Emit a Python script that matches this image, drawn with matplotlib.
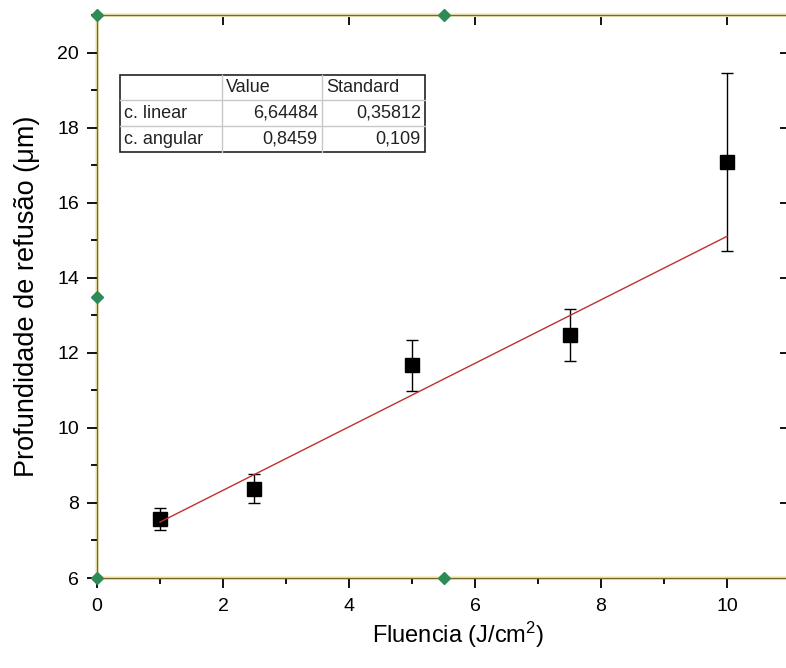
import numpy as np
import matplotlib.pyplot as plt
from matplotlib.patches import Rectangle
from matplotlib.ticker import MultipleLocator

plt.rcParams['font.family'] = ['Liberation Sans', 'DejaVu Sans']
plt.rcParams['mathtext.fontset'] = 'custom'
plt.rcParams['mathtext.rm'] = 'Liberation Sans'
plt.rcParams['mathtext.it'] = 'Liberation Sans'

fluencia = [1.0, 2.5, 5.0, 7.5, 10.0]
profundidade = [7.58, 8.38, 11.67, 12.48, 17.08]
erro = [0.29, 0.39, 0.68, 0.69, 2.38]

# linear fit parameters
c_linear = 6.64484
c_angular = 0.8459
table_rows = [["", "Value", "Standard"],
              ["c. linear", "6,64484", "0,35812"],
              ["c. angular", "0,8459", "0,109"]]

fig = plt.figure(figsize=(7.86, 6.68), dpi=100)
ax = fig.add_axes([0.1234, 0.1347, 0.8817, 0.8428])

# error bars + squares
ax.errorbar(fluencia, profundidade, yerr=erro, fmt="s", color="black",
            markersize=9.5, ecolor="black", elinewidth=1, capsize=4,
            capthick=1, zorder=3)

# fit line
xf = np.array([fluencia[0], fluencia[-1]])
ax.plot(xf, c_linear + c_angular * xf, color="#bf3030", lw=1, zorder=4)

ax.set_xlim(0, 11)
ax.set_ylim(6, 21)
ax.xaxis.set_major_locator(MultipleLocator(2))
ax.xaxis.set_minor_locator(MultipleLocator(1))
ax.yaxis.set_major_locator(MultipleLocator(2))
ax.yaxis.set_minor_locator(MultipleLocator(1))
ax.tick_params(which="both", direction="out", width=1.3, labelsize=14,
               top=False, right=False)
ax.tick_params(which="major", length=7.5)
ax.tick_params(which="minor", length=4)
ax.tick_params(axis="x", which="major", pad=7)
ax.tick_params(axis="y", which="major", pad=5.5)

# top / right ticks pointing inward
for sec in (ax.secondary_xaxis("top"), ax.secondary_yaxis("right")):
    sec.tick_params(which="both", direction="in", width=1.3, labelsize=0,
                    labeltop=False, labelright=False)
    sec.tick_params(which="major", length=7.5)
    sec.tick_params(which="minor", length=4)
    sec.spines[:].set_visible(False)

ax.set_xlabel("Fluencia (J/cm$^{2}$)", fontsize=17)
ax.xaxis.set_label_coords(0.521, -0.075)
ax.set_ylabel("Profundidade de refusão (μm)", fontsize=19.5, labelpad=12)

# frame: dark olive line with a pale yellow halo
for s in ax.spines.values():
    s.set_color("#76682c")
    s.set_linewidth(1.0)
ax.add_patch(Rectangle((0, 0), 1, 1, transform=ax.transAxes, fill=False,
                       edgecolor="#f6f0c4", lw=3, clip_on=False, zorder=0.5))

# selection handles
hx = [0, 0, 0, 5.5, 5.5]
hy = [6, 13.5, 21, 6, 21]
ax.plot(hx, hy, "D", color="#2e8b57", markersize=6.5, clip_on=False, zorder=6)

# parameter table
tx = [0.0332, 0.1804, 0.3247, 0.4733]
ty = [0.8934, 0.8490, 0.8028, 0.7567]
for y in ty[1:-1]:
    ax.plot([tx[0], tx[-1]], [y, y], transform=ax.transAxes,
            color="#c8c8c8", lw=1, zorder=5)
for x in tx[1:-1]:
    ax.plot([x, x], [ty[0], ty[-1]], transform=ax.transAxes,
            color="#c8c8c8", lw=1, zorder=5)
ax.add_patch(Rectangle((tx[0], ty[-1]), tx[-1] - tx[0], ty[0] - ty[-1],
                       transform=ax.transAxes, fill=True, facecolor="white",
                       edgecolor="#222222", lw=1.2, zorder=4.5))
pad = 0.006
for i, row in enumerate(table_rows):
    yc = (ty[i] + ty[i + 1]) / 2
    for j, txt in enumerate(row):
        if i == 0 or j == 0:
            ax.text(tx[j] + pad, yc, txt, transform=ax.transAxes,
                    ha="left", va="center", fontsize=13, color="#222222",
                    zorder=6)
        else:
            ax.text(tx[j + 1] - pad, yc, txt, transform=ax.transAxes,
                    ha="right", va="center", fontsize=13, color="#222222",
                    zorder=6)

fig.savefig("out.png", dpi=100)
